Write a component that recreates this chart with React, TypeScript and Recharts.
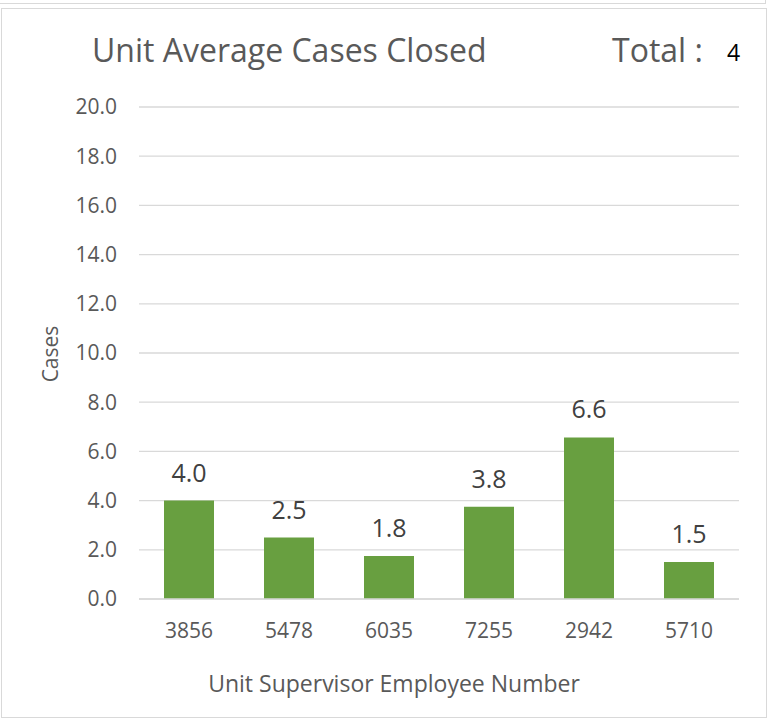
import React from 'react';
import { BarChart, Bar, XAxis, YAxis, CartesianGrid, LabelList } from 'recharts';

const categories = ['3856', '5478', '6035', '7255', '2942', '5710'];
const casesClosed = [4.0, 2.5, 1.75, 3.75, 6.57, 1.5];
const yTicks = [0, 2, 4, 6, 8, 10, 12, 14, 16, 18, 20];
const chartTitle = 'Unit Average Cases Closed';
const totalLabel = 'Total :';
const totalValue = '4';
const xTitle = 'Unit Supervisor Employee Number';
const yTitle = 'Cases';

const data = categories.map((c, i) => ({ supervisor: c, cases: casesClosed[i] }));

const FONT = '"Open Sans", "Noto Sans", sans-serif';
const GRAY = '#595959';
const GRID = '#d9d9d9';
const GREEN = '#689f40';

export default function App() {
  return (
    <div style={{ position: 'absolute', left: 0, top: 0, width: 769, height: 719, background: '#fff', overflow: 'hidden', fontFamily: FONT }}>
      <div style={{ position: 'absolute', left: -2, top: -6, width: 768, height: 10, border: `1px solid ${GRID}`, boxSizing: 'border-box' }} />
      <div style={{ position: 'absolute', left: 1, top: 8, width: 766, height: 710, border: `1px solid ${GRID}`, boxSizing: 'border-box' }} />
      <div style={{ position: 'absolute', left: 0, top: 0 }}>
        <BarChart width={769} height={719} data={data} margin={{ top: 107, right: 30, bottom: 60, left: 0 }} barCategoryGap="25%">
          <CartesianGrid vertical={false} stroke={GRID} strokeWidth={1.3} />
          <XAxis
            dataKey="supervisor"
            height={60}
            tickLine={false}
            tickSize={0}
            tickMargin={24}
            axisLine={{ stroke: GRID, strokeWidth: 1.3 }}
            tick={{ fill: GRAY, fontSize: 21, fontFamily: FONT }}
          />
          <YAxis
            width={139}
            domain={[0, 20]}
            ticks={yTicks}
            interval={0}
            axisLine={false}
            tickLine={false}
            tickSize={0}
            tickMargin={22}
            tickFormatter={(v: number) => v.toFixed(1)}
            tick={{ fill: GRAY, fontSize: 21, fontFamily: FONT }}
          />
          <Bar dataKey="cases" fill={GREEN} isAnimationActive={false}>
            <LabelList
              dataKey="cases"
              position="top"
              offset={19}
              formatter={(v: number) => Number(v).toFixed(1)}
              style={{ fill: '#404040', fontSize: 25, fontFamily: FONT }}
            />
          </Bar>
        </BarChart>
      </div>
      <svg width={769} height={719} style={{ position: 'absolute', left: 0, top: 0, pointerEvents: 'none' }}>
        <text x={92} y={62} fontSize={32} fill={GRAY} fontFamily={FONT}>{chartTitle}</text>
        <text x={612} y={62} fontSize={32} fill={GRAY} fontFamily={FONT}>{totalLabel}</text>
        <text x={727} y={61} fontSize={23} fill="#000" fontFamily={FONT}>{totalValue}</text>
        <text x={394} y={692} fontSize={23} fill={GRAY} fontFamily={FONT} textAnchor="middle">{xTitle}</text>
        <text x={58} y={354} fontSize={21} fill={GRAY} fontFamily={FONT} textAnchor="middle" transform="rotate(-90 58 354)">{yTitle}</text>
      </svg>
    </div>
  );
}
